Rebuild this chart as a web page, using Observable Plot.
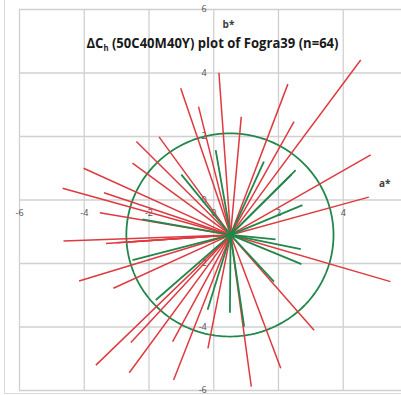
<!DOCTYPE html>
<html><head><meta charset="utf-8">
<script src="https://cdn.jsdelivr.net/npm/d3@7"></script>
<script src="https://cdn.jsdelivr.net/npm/@observablehq/plot@0.6"></script>
<style>
body{margin:0;background:#fff;}
#wrap{position:relative;width:401px;height:395px;overflow:hidden;}
#border{position:absolute;left:4px;top:-4px;width:430px;height:398px;border:1px solid #d9d9d9;box-sizing:border-box;pointer-events:none}
svg{position:absolute;left:0;top:0}
</style></head><body><div id="wrap"><div id="border"></div></div>
<script>
// hub (mean) and tolerance circle
const hub = {a: 0.52, b: -1.1};
const circle = {a: 0.5, b: -1.1, r: 3.2};

// red vectors (end points, a*, b*)
const redA = [0.16, -1.02, -0.47, -1.69, -2.39, 0.85, 2.29, 2.48, 4.54, 4.85, 4.79,
  -4.02, -4.67, -3.39, -2.51, -3.52, -4.64, -3.33, -3.0, -2.7,
  -4.16, -3.10, -3.64, -2.61, -2.56, -1.27, -1.24, -0.18,
  1.16, 2.07, 3.10, 5.46];
const redB = [4.01, 3.52, 2.94, 1.99, 1.84, 2.62, 3.65, 2.47, 4.41, 1.42, 0.09,
  1.0, 0.37, 0.23, 1.16, -0.40, -1.29, -1.37, -1.35, -1.33,
  -2.55, -2.78, -5.20, -5.44, -4.49, -4.46, -5.67, -4.67,
  -5.88, -5.30, -4.10, -2.57];

// green vectors (end points, a*, b*)
const greenA = [0.06, 1.55, 2.53, 2.4, -1.0, -2.2, -2.51, -1.79, -0.19, 0.50, 0.94, 2.74, 1.91, 2.69, 2.71, 1.86];
const greenB = [1.57, 1.21, 0.94, 0.8, 0.8, -0.61, -1.89, -3.15, -3.46, -3.55, -3.99, -0.16, -1.24, -1.55, -2.02, -2.57];

const xTicks = [-6, -4, -2, 0, 2, 4];
const yTicks = [-6, -4, -2, 0, 2, 4, 6];
const titleMain = "ΔC";
const titleSub = "h";
const titleRest = " (50C40M40Y) plot of Fogra39 (n=64)";

const red = redA.map((a, i) => ({a, b: redB[i]}));
const green = greenA.map((a, i) => ({a, b: greenB[i]}));
const ring = d3.range(0, 361, 2).map(t => ({
  a: circle.a + circle.r * Math.cos(t * Math.PI / 180),
  b: circle.b + circle.r * Math.sin(t * Math.PI / 180)
}));

const RED = "#de3a3f", GREEN = "#22874a", GRID = "#d0d0d0", LAB = "#505050";

const chart = Plot.plot({
  width: 401, height: 395,
  marginLeft: 19, marginRight: 0, marginTop: 9, marginBottom: 5,
  x: {domain: [-6, 5.8], axis: null},
  y: {domain: [-6, 6], axis: null},
  style: {fontFamily: "'Open Sans', 'Liberation Sans', sans-serif", background: "transparent"},
  marks: [
    Plot.ruleX(xTicks, {x: d => d, stroke: GRID, strokeWidth: 1.3}),
    Plot.ruleY(yTicks, {y: d => d, stroke: GRID, strokeWidth: 1.3}),
    Plot.text(xTicks, {x: d => d, y: 0, dy: 13, text: d => String(d), fontSize: 9, fill: LAB}),
    Plot.text(yTicks, {x: 0, y: d => d, dx: -7, textAnchor: "end", text: d => String(d), fontSize: 9, fill: LAB}),
    Plot.line(ring, {x: "a", y: "b", stroke: GREEN, strokeWidth: 1.8}),
    Plot.link(red, {x1: () => hub.a, y1: () => hub.b, x2: "a", y2: "b", stroke: RED, strokeWidth: 1.5}),
    Plot.link(green, {x1: () => hub.a, y1: () => hub.b, x2: "a", y2: "b", stroke: GREEN, strokeWidth: 1.8}),
    Plot.text(["b*"], {frameAnchor: "top", dx: 18, dy: 11, fontSize: 10, fontWeight: "bold", fill: "#404040"}),
    Plot.text(["a*"], {frameAnchor: "right", dx: -11, dy: -16, fontSize: 10, fontWeight: "bold", fill: "#404040"}),
    Plot.text([titleMain + titleSub + titleRest], {frameAnchor: "top", dx: 2, dy: 29, fontSize: 13.5, fontWeight: "bold", fill: "#1a1a1a"})
  ]
});
document.getElementById("wrap").appendChild(chart);

// subscript h in the title
d3.select(chart).selectAll("text").filter(function() { return this.textContent === titleMain + titleSub + titleRest; })
  .each(function() {
    const t = d3.select(this);
    t.text(null).attr("textLength", 252).attr("lengthAdjust", "spacingAndGlyphs");
    t.append("tspan").text(titleMain);
    t.append("tspan").attr("font-size", 8).attr("dy", 3).text(titleSub);
    t.append("tspan").attr("dy", -3).text(titleRest);
  });
</script>
</body></html>
